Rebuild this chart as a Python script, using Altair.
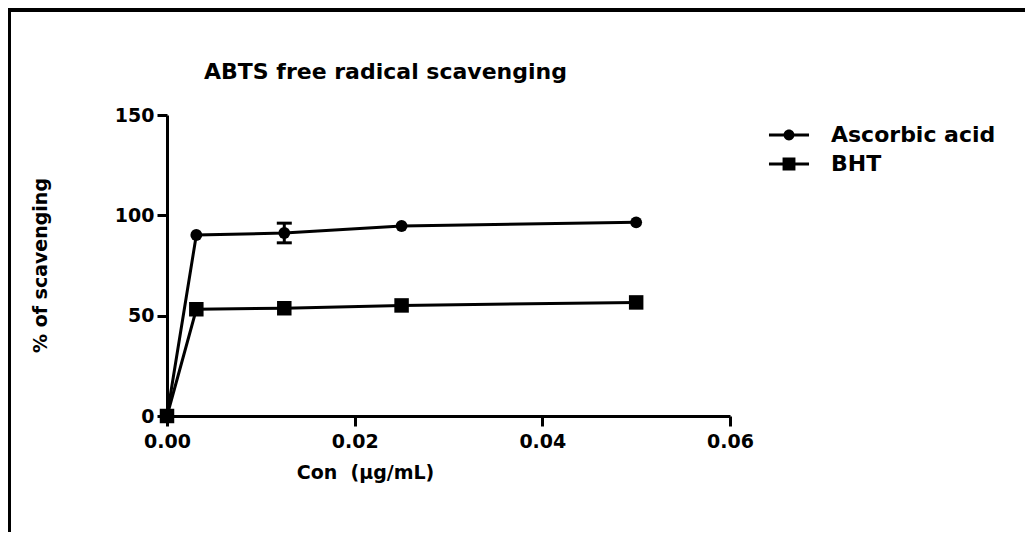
import altair as alt
import pandas as pd

# ---- data ----
conc = [0.0, 0.003125, 0.0125, 0.025, 0.05]
ascorbic = [0.0, 90.2, 91.2, 94.7, 96.5]
ascorbic_err = [0.0, 0.0, 4.9, 0.0, 0.0]
bht = [0.0, 53.2, 53.7, 55.1, 56.6]
bht_err = [0.0, 0.0, 0.0, 0.0, 0.0]
series_names = ["Ascorbic acid", "BHT"]

rows = []
for c, v, e in zip(conc, ascorbic, ascorbic_err):
    rows.append({"series": series_names[0], "con": c, "val": v, "lo": v - e, "hi": v + e})
for c, v, e in zip(conc, bht, bht_err):
    rows.append({"series": series_names[1], "con": c, "val": v, "lo": v - e, "hi": v + e})
df = pd.DataFrame(rows)

FONT = "DejaVu Sans"

xenc = alt.X("con:Q", scale=alt.Scale(domain=[0, 0.06], nice=False),
             axis=alt.Axis(values=[0, 0.02, 0.04, 0.06], format=".2f",
                           title="Con\u00a0 (μg/mL)", titleX=198, titleY=62,
                           titleBaseline="alphabetic", titleAlign="center",
                           labelPadding=6, labelFlush=False))
yenc = alt.Y("val:Q", scale=alt.Scale(domain=[0, 150], nice=False),
             axis=alt.Axis(values=[0, 50, 100, 150], title="% of scavenging",
                           titleX=-127, titleY=150, titleAlign="center",
                           titleBaseline="middle", labelPadding=3, labelFlush=False))

base = alt.Chart(df)

lines = base.mark_line(color="black", strokeWidth=3).encode(
    x=xenc, y=yenc, detail="series:N")

errs = base.transform_filter("datum.hi > datum.lo").mark_errorbar(
    ticks=True, size=15, thickness=3, color="black", opacity=1).encode(
    x="con:Q", y=alt.Y("lo:Q", title="% of scavenging"), y2="hi:Q")

points = base.mark_point(filled=True, opacity=1, color="black").encode(
    x="con:Q", y="val:Q",
    shape=alt.Shape("series:N", scale=alt.Scale(domain=series_names, range=["circle", "square"]), legend=None),
    size=alt.Size("series:N", scale=alt.Scale(domain=series_names, range=[140, 210]), legend=None),
)

leg_circle = "M-1.43,-0.11H1.43V0.11H-1.43Z M0.39,0A0.39,0.39,0,1,1,-0.39,0A0.39,0.39,0,1,1,0.39,0Z"
leg_square = "M-1.43,-0.11H1.43V0.11H-1.43Z M-0.46,-0.46H0.46V0.46H-0.46Z"

legend_layer = base.mark_point(filled=True, opacity=0, color="black").encode(
    x="con:Q", y="val:Q",
    shape=alt.Shape("series:N",
                    scale=alt.Scale(domain=series_names, range=[leg_circle, leg_square]),
                    legend=alt.Legend(title=None, orient="none", legendX=608, legendY=6,
                                      labelFont=FONT, labelFontSize=22, labelFontWeight="bold",
                                      labelColor="black", labelOffset=28, labelLimit=400,
                                      rowPadding=4, padding=0, symbolSize=784, symbolOpacity=1,
                                      symbolFillColor="black", symbolStrokeWidth=0)),
)

border_top = alt.Chart(alt.Data(values=[{}])).mark_rule(color="black", strokeWidth=4).encode(
    x=alt.value(-159), x2=alt.value(858), y=alt.value(-105))
border_left = alt.Chart(alt.Data(values=[{}])).mark_rule(color="black", strokeWidth=3).encode(
    x=alt.value(-157.5), y=alt.value(-107), y2=alt.value(417))

chart = alt.layer(lines, errs, points, legend_layer, border_top, border_left).resolve_scale(
    shape="independent", size="independent"
).properties(
    width=563, height=301,
    background="white",
    title=alt.TitleParams("ABTS free radical scavenging", font=FONT, fontSize=22,
                          fontWeight="bold", color="black", anchor="middle", dx=-63,
                          baseline="alphabetic", offset=-94),
    padding={"left": 159, "top": 107, "right": 295, "bottom": 116},
    autosize=alt.AutoSizeParams(type="none"),
).configure_view(stroke=None).configure_axis(
    labelFont=FONT, labelFontSize=19, labelFontWeight="bold", labelColor="black",
    titleFont=FONT, titleFontSize=19, titleFontWeight="bold", titleColor="black",
    domainColor="black", domainWidth=3, tickColor="black", tickWidth=3, tickSize=10,
    grid=False,
)

chart.save("out.html", embed_options={"renderer": "svg", "actions": False})
